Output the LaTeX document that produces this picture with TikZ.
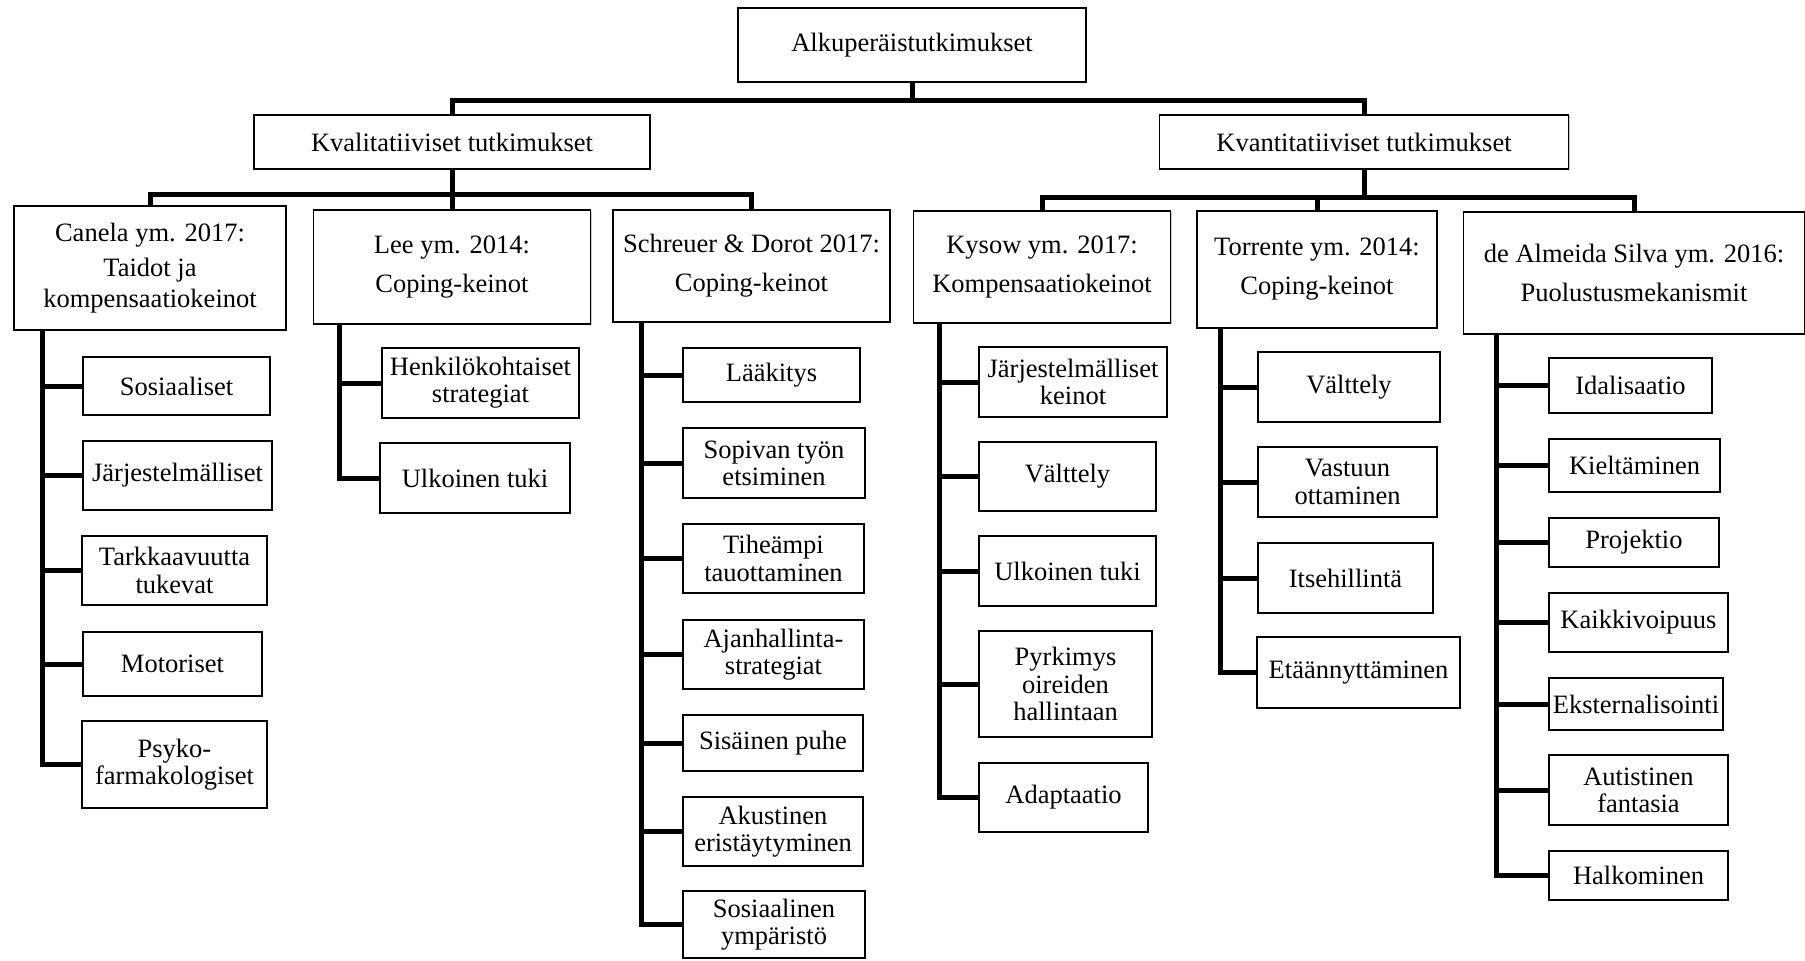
\documentclass[tikz,border=0pt]{standalone}
\usepackage{fontspec}
\setmainfont{Liberation Serif}
\usetikzlibrary{shadows}

\tikzset{
  box/.style={draw, line width=0.9pt, fill=white, align=center, inner sep=1pt,
    drop shadow={shadow xshift=0.6pt, shadow yshift=-0.6pt, fill=black!35, opacity=0.6}},
  head/.style={box, font=\fontsize{13.25}{19.5}\selectfont},
  leaf/.style={box, font=\fontsize{13.25}{13.6}\selectfont},
  conn/.style={line width=2.5pt},
  bw/.style={minimum width=#1*0.5pt},
  bh/.style={minimum height=#1*0.5pt},
}

\begin{document}
\begin{tikzpicture}[x=0.5pt, y=-0.5pt]
  \useasboundingbox (0,0) rectangle (1805,960);

  % top levels
  \node[head, bw=348, bh=74] (root)  at (912,45)  {Alkuperäistutkimukset};
  \node[head, bw=396, bh=54] (kval)  at (452,142) {Kvalitatiiviset tutkimukset};
  \node[head, bw=409, bh=54] (kvant) at (1364,142) {Kvantitatiiviset tutkimukset};

  % studies
  \node[head, bw=272, bh=124, font=\fontsize{13.25}{15.5}\selectfont] (canela) at (150,268)
    {Canela ym. 2017:\\[2pt] Taidot ja\\ kompensaatiokeinot};
  \node[head, bw=277, bh=114] (lee)      at (452,267)    {Lee ym. 2014:\\ Coping-keinot};
  \node[head, bw=277, bh=112] (schreuer) at (751.5,266)  {Schreuer \& Dorot 2017:\\ Coping-keinot};
  \node[head, bw=257, bh=112] (kysow)    at (1042,267)   {Kysow ym. 2017:\\ Kompensaatiokeinot};
  \node[head, bw=240, bh=117] (torrente) at (1317,269.5) {Torrente ym. 2014:\\ Coping-keinot};
  \node[head, bw=341, bh=122] (almeida)  at (1634,273)   {de Almeida Silva ym. 2016:\\ Puolustusmekanismit};

  % Canela
  \node[leaf, bw=187, bh=58] (c1) at (176.5,386) {Sosiaaliset};
  \node[leaf, bw=189, bh=69] (c2) at (177.5,475.5) {Järjestelmälliset};
  \node[leaf, bw=185, bh=69] (c3) at (174.5,570.5) {Tarkkaavuutta\\ tukevat};
  \node[leaf, bw=179, bh=64] (c4) at (172.5,664) {Motoriset};
  \node[leaf, bw=185, bh=87] (c5) at (174.5,764.5) {Psyko-\\ farmakologiset};

  % Lee
  \node[leaf, bw=197, bh=70] (l1) at (480.5,383) {Henkilökohtaiset\\ strategiat};
  \node[leaf, bw=190, bh=70] (l2) at (475,478) {Ulkoinen tuki};

  % Schreuer & Dorot
  \node[leaf, bw=177, bh=54] (s1) at (771.5,375) {Lääkitys};
  \node[leaf, bw=182, bh=70] (s2) at (774,463) {Sopivan työn\\ etsiminen};
  \node[leaf, bw=181, bh=69] (s3) at (773.5,558.5) {Tiheämpi\\ tauottaminen};
  \node[leaf, bw=181, bh=69] (s4) at (773.5,654.5) {Ajanhallinta-\\ strategiat};
  \node[leaf, bw=180, bh=56] (s5) at (773,743) {Sisäinen puhe};
  \node[leaf, bw=180, bh=69] (s6) at (773,831.5) {Akustinen\\ eristäytyminen};
  \node[leaf, bw=182, bh=67] (s7) at (774,924.5) {Sosiaalinen\\ ympäristö};

  % Kysow
  \node[leaf, bw=188, bh=70]  (k1) at (1073,382) {Järjestelmälliset\\ keinot};
  \node[leaf, bw=177, bh=69]  (k2) at (1067.5,476.5) {Välttely};
  \node[leaf, bw=177, bh=70]  (k3) at (1067.5,571) {Ulkoinen tuki};
  \node[leaf, bw=173, bh=106] (k4) at (1065.5,684) {Pyrkimys\\ oireiden\\ hallintaan};
  \node[leaf, bw=169, bh=69]  (k5) at (1063.5,797.5) {Adaptaatio};

  % Torrente
  \node[leaf, bw=182, bh=70] (t1) at (1349,387) {Välttely};
  \node[leaf, bw=179, bh=70] (t2) at (1347.5,482) {Vastuun\\ ottaminen};
  \node[leaf, bw=175, bh=70] (t3) at (1345.5,578) {Itsehillintä};
  \node[leaf, bw=203, bh=71] (t4) at (1358.5,672.5) {Etäännyttäminen};

  % de Almeida Silva
  \node[leaf, bw=163, bh=55] (a1) at (1630.5,385.5) {Idalisaatio};
  \node[leaf, bw=171, bh=53] (a2) at (1634.5,465.5) {Kieltäminen};
  \node[leaf, bw=170, bh=49] (a3) at (1634,542.5) {Projektio};
  \node[leaf, bw=179, bh=59] (a4) at (1638.5,622.5) {Kaikkivoipuus};
  \node[leaf, bw=174, bh=52] (a5) at (1636,704) {Eksternalisointi};
  \node[leaf, bw=179, bh=70] (a6) at (1638.5,790) {Autistinen\\ fantasia};
  \node[leaf, bw=179, bh=49] (a7) at (1638.5,875.5) {Halkominen};

  % tree lines
  \draw[conn] (root.south) -- ++(0,18) -| (kval.north);
  \draw[conn] (root.south) -- ++(0,18) -| (kvant.north);
  \draw[conn] (kval.south) -- ++(0,25) -| (canela.north);
  \draw[conn] (kval.south) -- ++(0,25) -| (schreuer.north);
  \draw[conn] (kval.south) -- (lee.north);
  \draw[conn] (kvant.south) -- ++(0,28) -| (kysow.north);
  \draw[conn] (kvant.south) -- ++(0,28) -| (torrente.north);
  \draw[conn] (kvant.south) -- ++(0,28) -| (almeida.north);

  \foreach \p/\dx/\kids in {canela/14.5pt/{c1,c2,c3,c4,c5}, lee/13.25pt/{l1,l2},
      schreuer/14.5pt/{s1,s2,s3,s4,s5,s6,s7}, kysow/13.25pt/{k1,k2,k3,k4,k5},
      torrente/12pt/{t1,t2,t3,t4}, almeida/16.75pt/{a1,a2,a3,a4,a5,a6,a7}}
    \foreach \k in \kids
      \draw[conn] ([xshift=\dx]\p.south west) |- (\k.west);

\end{tikzpicture}
\end{document}
